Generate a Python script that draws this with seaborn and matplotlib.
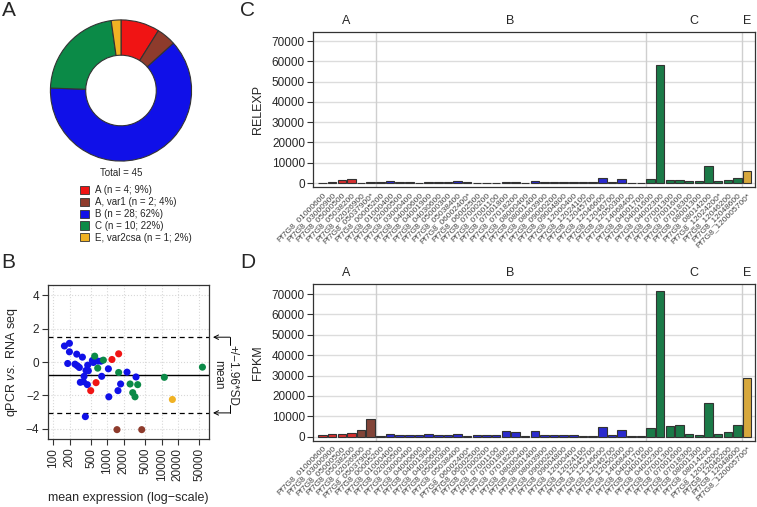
import numpy as np
import pandas as pd
import matplotlib
matplotlib.use('Agg')
import matplotlib.pyplot as plt
import matplotlib.patches as mpatches
from matplotlib.lines import Line2D
import seaborn as sns

sns.set_style('ticks')
plt.rcParams['font.family'] = ['Liberation Sans', 'DejaVu Sans']
plt.rcParams['mathtext.fontset'] = 'custom'
plt.rcParams['mathtext.it'] = 'Liberation Sans:italic'
plt.rcParams['mathtext.rm'] = 'Liberation Sans'

# ---- data ----
group_names = ['A', 'A, var1', 'B', 'C', 'E, var2csa']
group_counts = [4, 2, 28, 10, 1]
group_colors = ['#f01414', '#8e3b2c', '#1010e8', '#0b8a47', '#f0b224']
pal = dict(zip(group_names, group_colors))

genes = [
    'Pf7G8_01000600', 'Pf7G8_03000900', 'Pf7G8_05000500', 'Pf7G8_05038200',
    'Pf7G8_02026900', 'Pf7G8_05037900*',
    'Pf7G8_00005200', 'Pf7G8_01000400', 'Pf7G8_02000500', 'Pf7G8_03000400',
    'Pf7G8_04000600', 'Pf7G8_04001900', 'Pf7G8_04030600', 'Pf7G8_05000300',
    'Pf7G8_05038400', 'Pf7G8_06002400*', 'Pf7G8_06002500', 'Pf7G8_07000200',
    'Pf7G8_07001100', 'Pf7G8_07001800', 'Pf7G8_07018200', 'Pf7G8_08000400',
    'Pf7G8_08001400', 'Pf7G8_08003900', 'Pf7G8_09000200', 'Pf7G8_09004800',
    'Pf7G8_12000400', 'Pf7G8_12024100', 'Pf7G8_12045700', 'Pf7G8_12046600',
    'Pf7G8_12046700', 'Pf7G8_12050300', 'Pf7G8_14068400', 'Pf7G8_04001700',
    'Pf7G8_04001600', 'Pf7G8_04002300', 'Pf7G8_07001300', 'Pf7G8_07001600',
    'Pf7G8_07018300', 'Pf7G8_08001300', 'Pf7G8_08014200', 'Pf7G8_12024200*',
    'Pf7G8_12046200', 'Pf7G8_12048600',
    'Pf7G8_120005700*',
]
gene_groups = ['A'] * 4 + ['A, var1'] * 2 + ['B'] * 28 + ['C'] * 10 + ['E, var2csa']

relexp = [200, 300, 1300, 1900, 100, 400,
          400, 900, 700, 400, 200, 600, 400, 300, 900, 400, 100, 250, 250, 700,
          400, 200, 900, 300, 300, 500, 500, 300, 300, 2500, 400, 1900, 200, 200,
          1800, 58200, 1500, 1500, 800, 800, 8600, 1000, 1500, 2300,
          6000]
fpkm = [1000, 1100, 1400, 1700, 3300, 8800,
        300, 1500, 700, 700, 700, 1300, 700, 700, 1100, 200, 900, 850, 600, 2800,
        2100, 300, 2900, 600, 600, 800, 600, 500, 500, 4900, 800, 3100, 300, 500,
        4100, 71700, 5200, 5900, 1100, 800, 16300, 1100, 2300, 5700,
        28800]

# panel B: mean expression vs difference
b_mean = [160, 198, 198, 184, 270, 251, 278, 302, 344, 315, 359, 369, 401, 431,
          443, 425, 390, 526, 549, 670, 760, 782, 1040, 1060, 1565, 1750, 2300, 3370,
          490, 615, 1210, 1610,
          580, 660, 840, 1610, 2620, 2930, 3230, 3620, 11260, 57000,
          1500, 4300,
          15860]
b_diff = [0.97, 1.13, 0.62, -0.08, 0.48, -0.12, -0.22, -0.32, 0.30, -1.21, -1.17,
          -0.85, -0.50, -0.18, -0.52, -1.35, -3.27, 0.10, -0.02, 0.06, 0.06, -0.85,
          -0.40, -2.08, -1.71, -1.31, -0.60, -0.89,
          -1.71, -1.23, 0.16, 0.50,
          0.36, -0.36, 0.12, -0.62, -1.31, -1.83, -2.08, -1.35, -0.91, -0.30,
          -4.05, -4.05,
          -2.24]
b_group = ['B'] * 28 + ['A'] * 4 + ['C'] * 10 + ['A, var1'] * 2 + ['E, var2csa']
b_xticks = [100, 200, 500, 1000, 2000, 5000, 10000, 20000, 50000]

W, H = 757, 507
fig = plt.figure(figsize=(W / 100, H / 100), dpi=100)


def box(l, t, r, b):
    return [l / W, 1 - b / H, (r - l) / W, (b - t) / H]


edge = '#333333'

# ---- A: donut ----
axA = fig.add_axes(box(49, 18.5, 193, 162.5))
axA.pie(group_counts, colors=group_colors, startangle=90, counterclock=False,
        radius=1, wedgeprops=dict(width=0.5, edgecolor=edge, linewidth=0.8))
axA.set_xlim(-1.02, 1.02)
axA.set_ylim(-1.02, 1.02)
axA.set_aspect('equal')
axA.axis('off')
fig.text(121 / W, 1 - 173 / H, 'Total = 45', ha='center', va='center', fontsize=7)
total = sum(group_counts)
handles = [mpatches.Patch(facecolor=c, edgecolor=edge, linewidth=0.6,
                          label=f'{g} (n = {n}; {round(100 * n / total)}%)')
           for g, n, c in zip(group_names, group_counts, group_colors)]
fig.legend(handles=handles, loc='upper left', bbox_to_anchor=(80 / W, 1 - 185 / H),
           frameon=False, fontsize=7, handlelength=0.9, handleheight=0.9,
           handletextpad=0.6, labelspacing=0.2, borderaxespad=0, borderpad=0)

# ---- B: scatter ----
axB = fig.add_axes(box(47.7, 285, 209, 439.3))
dfB = pd.DataFrame({'m': b_mean, 'd': b_diff, 'g': b_group})
sns.scatterplot(data=dfB, x='m', y='d', hue='g', palette=pal, s=26, linewidth=0,
                legend=False, ax=axB, zorder=3)
axB.set_xscale('log')
axB.set_xlim(78.5, 75400)
axB.set_ylim(-4.63, 4.63)
axB.set_xticks(b_xticks)
axB.set_xticklabels([str(v) for v in b_xticks], rotation=90, fontsize=8.5)
axB.xaxis.set_minor_locator(matplotlib.ticker.NullLocator())
axB.set_yticks([-4, -2, 0, 2, 4])
axB.set_yticklabels(['\u22124', '\u22122', '0', '2', '4'], fontsize=8.5)
axB.grid(True, linestyle=':', color='#d8d8d8', linewidth=0.8)
mean_d = np.mean(b_diff)
sd_d = np.std(b_diff, ddof=1)
up, lo = mean_d + 1.96 * sd_d, mean_d - 1.96 * sd_d
axB.axhline(mean_d, color='black', lw=1)
axB.axhline(up, color='black', lw=0.9, ls=(0, (4, 3)))
axB.axhline(lo, color='black', lw=0.9, ls=(0, (4, 3)))
axB.set_xlabel('mean expression (log\u2212scale)', fontsize=9, labelpad=8)
axB.set_ylabel(r'qPCR $\it{vs.}$ RNA seq', fontsize=9, labelpad=4)
axB.tick_params(length=4, width=0.8, color=edge, pad=2)
for s in axB.spines.values():
    s.set_linewidth(0.9)
    s.set_color(edge)

# bracket to the right of panel B, in figure pixels
def ypix(v):
    return axB.transData.transform((1000, v))[1]


y_up, y_lo, y_mean = ypix(up), ypix(lo), ypix(mean_d)
xa, xb = 213, 230
for yy in (y_up, y_lo):
    fig.add_artist(mpatches.FancyArrowPatch((xb / W, yy / H), (xa / W, yy / H),
                                            transform=fig.transFigure,
                                            arrowstyle='->', mutation_scale=8,
                                            lw=0.7, color='black',
                                            shrinkA=0, shrinkB=0))
gap = 0.8 * (y_up - y_lo) / 2
fig.add_artist(Line2D([xb / W, xb / W], [y_up / H, (y_mean + gap) / H],
                      transform=fig.transFigure, color='black', lw=0.7))
fig.add_artist(Line2D([xb / W, xb / W], [(y_mean - gap) / H, y_lo / H],
                      transform=fig.transFigure, color='black', lw=0.7))
fig.text(232 / W, y_mean / H, '+/\u22121.96*SD', rotation=270,
         ha='center', va='center', fontsize=8.5)
fig.text(218 / W, y_mean / H, 'mean', rotation=270,
         ha='center', va='center', fontsize=8.5)


# ---- C & D: bars ----
def bar_panel(rect, vals, ylabel, ylim):
    ax = fig.add_axes(rect)
    df = pd.DataFrame({'gene': genes, 'val': vals, 'grp': gene_groups})
    sns.barplot(data=df, x='gene', y='val', hue='grp', palette=pal, order=genes,
                hue_order=group_names, dodge=False, width=0.88, errorbar=None,
                edgecolor=edge, linewidth=0.8, legend=False, ax=ax, zorder=3)
    ax.set_xlim(-0.95, 44.85)
    ax.set_ylim(*ylim)
    ax.set_yticks(range(0, 70001, 10000))
    ax.set_yticklabels([str(v) for v in range(0, 70001, 10000)], fontsize=8.5)
    ax.yaxis.grid(True, color='#dcdcdc', linewidth=1)
    ax.set_axisbelow(True)
    ax.set_xticks(range(len(genes)))
    ax.set_xticklabels(genes, rotation=45, ha='right', rotation_mode='anchor',
                       fontsize=6, color='#444444')
    ax.tick_params(axis='x', length=0, pad=3)
    ax.tick_params(axis='y', length=4, width=0.8, color=edge, pad=2)
    ax.set_xlabel('')
    ax.set_ylabel(ylabel, fontsize=9, labelpad=6)
    for s in ax.spines.values():
        s.set_linewidth(0.9)
        s.set_color(edge)
    for xv in (5.5, 33.5, 43.5):
        ax.axvline(xv, color='#cfcfcf', lw=1, zorder=1)
    starts = [0, 6, 34, 44]
    ends = [5, 33, 43, 44]
    for lab, a, b in zip(['A', 'B', 'C', 'E'], starts, ends):
        ax.text((a + b) / 2, 1.07, lab, transform=ax.get_xaxis_transform(),
                ha='center', va='center', fontsize=9)
    return ax


bar_panel(box(313.3, 31.7, 755.3, 187.3), relexp, 'RELEXP', (-2100, 74600))
bar_panel(box(313.3, 284.3, 755.3, 440.7), fpkm, 'FPKM', (-2000, 74800))

for lab, x, y in [('A', 8.5, 10), ('B', 8.5, 263), ('C', 247.5, 10), ('D', 247.5, 263)]:
    fig.text(x / W, 1 - y / H, lab, fontsize=15, ha='center', va='center')

fig.savefig('out.png', dpi=100)
